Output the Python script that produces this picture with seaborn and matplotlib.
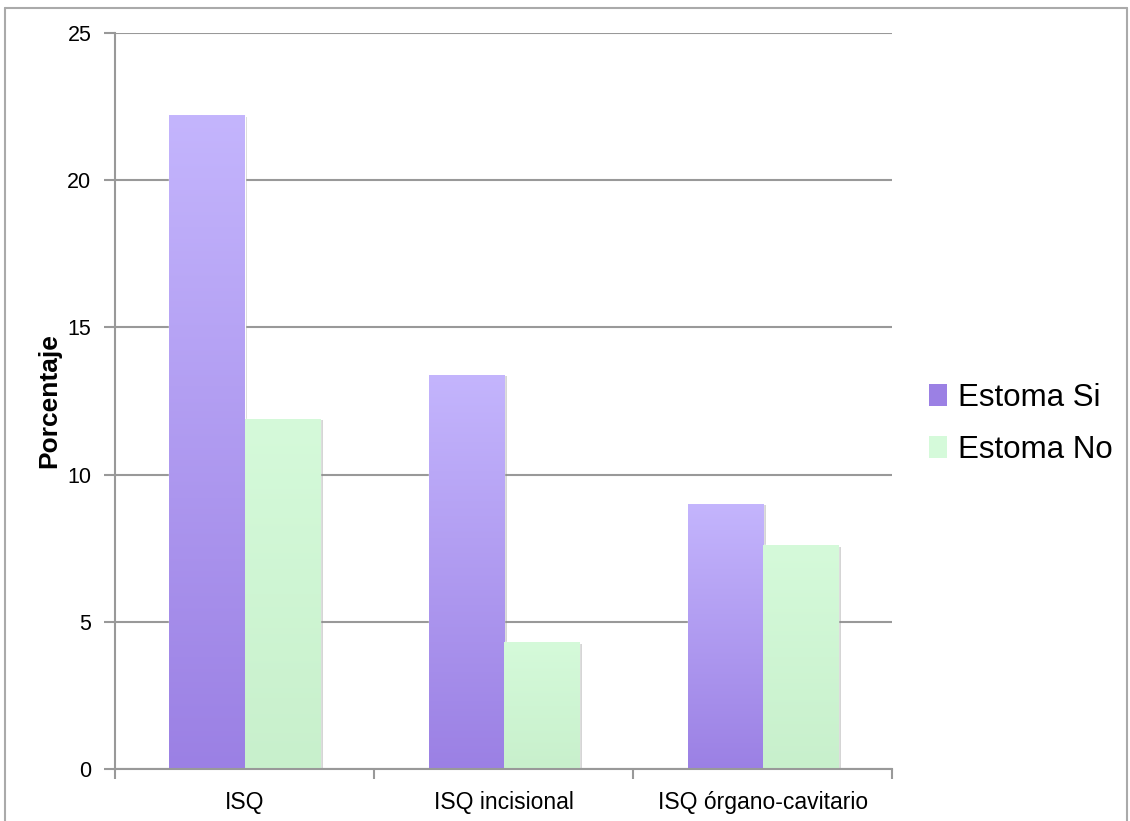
import matplotlib
matplotlib.use("Agg")
import matplotlib.pyplot as plt
import matplotlib.patches as mpatches
import matplotlib.patheffects as pe
from matplotlib.colors import LinearSegmentedColormap
import numpy as np
import pandas as pd
import seaborn as sns

# data
categorias = ["ISQ", "ISQ incisional", "ISQ órgano-cavitario"]
estoma_si = [22.2, 13.4, 9.0]
estoma_no = [11.9, 4.3, 7.6]
grupos = ["Estoma Si", "Estoma No"]

df = pd.DataFrame({
    "categoria": categorias * 2,
    "valor": estoma_si + estoma_no,
    "grupo": [grupos[0]] * 3 + [grupos[1]] * 3,
})

# gradient colours (bottom, top)
grad = {
    "Estoma Si": ("#9b80e4", "#c4b5fd"),
    "Estoma No": ("#c8f0cc", "#d5fada"),
}
palette = {g: grad[g][1] for g in grupos}

sns.set_style("white")
plt.rcParams["font.family"] = ["Liberation Sans", "DejaVu Sans"]
plt.rcParams["text.color"] = "black"

fig = plt.figure(figsize=(11.3, 8.21), dpi=100)
ax = fig.add_axes([0.1018, 0.0633, 0.688, 0.8965])

sns.barplot(data=df, x="categoria", y="valor", hue="grupo", palette=palette,
            width=0.58, gap=0, ax=ax, legend=False, saturation=1)

# draw gradient inside each bar
for container, g in zip(ax.containers, grupos):
    cmap = LinearSegmentedColormap.from_list(g, list(grad[g]))
    for bar in container:
        x0, y0 = bar.get_x(), bar.get_y()
        w, h = bar.get_width(), bar.get_height()
        bar.set_path_effects([pe.SimplePatchShadow(offset=(2, -1), shadow_rgbFace="#888888", alpha=0.35),
                              pe.Normal()])
        img = ax.imshow(np.linspace(0, 1, 256).reshape(-1, 1), cmap=cmap, origin="lower",
                        extent=[x0, x0 + w, y0, y0 + h], aspect="auto", zorder=2.5)
        img.set_clip_path(bar)

ax.set_xlim(-0.5, 2.5)
ax.set_ylim(0, 25)
ax.set_yticks([0, 5, 10, 15, 20, 25])
ax.yaxis.grid(True, color="#999999", linewidth=1.5)
ax.set_axisbelow(True)

ax.set_xticks([-0.5, 0.5, 1.5, 2.5], minor=True)
ax.tick_params(axis="x", which="major", bottom=False, length=0, labelsize=16.5, pad=16, labelcolor="black")
ax.tick_params(axis="x", which="minor", bottom=True, length=7, width=1.5, color="#999999", direction="out")
ax.tick_params(axis="y", left=True, length=8, width=1.5, color="#999999", direction="out",
               labelsize=15.5, pad=9, labelcolor="black")

ax.set_xlabel("")
ax.set_ylabel("Porcentaje", fontsize=19, fontweight="bold", labelpad=4, color="black")

for s in ["top", "right"]:
    ax.spines[s].set_visible(False)
for s in ["left", "bottom"]:
    ax.spines[s].set_color("#999999")
    ax.spines[s].set_linewidth(1.5)
ax.set_facecolor("white")

handles = [mpatches.Patch(facecolor=grad[g][0] if i == 0 else grad[g][1], edgecolor="none", label=g)
           for i, g in enumerate(grupos)]
leg = fig.legend(handles=handles, loc="center left", bbox_to_anchor=(0.797, 0.484),
                 frameon=False, fontsize=22.5, handlelength=0.6, handleheight=0.7,
                 handletextpad=0.35, labelspacing=0.7)
for t in leg.get_texts():
    t.set_color("black")

# outer frame of the picture
fig.add_artist(plt.Line2D([5 / 1130, 5 / 1130], [0, 1 - 8 / 821], color="#aaaaaa", lw=1.5))
fig.add_artist(plt.Line2D([5 / 1130, 1127 / 1130], [1 - 8 / 821, 1 - 8 / 821], color="#aaaaaa", lw=1.5))
fig.add_artist(plt.Line2D([1127 / 1130, 1127 / 1130], [0, 1 - 8 / 821], color="#aaaaaa", lw=1.5))

fig.savefig("out.png", dpi=100)
